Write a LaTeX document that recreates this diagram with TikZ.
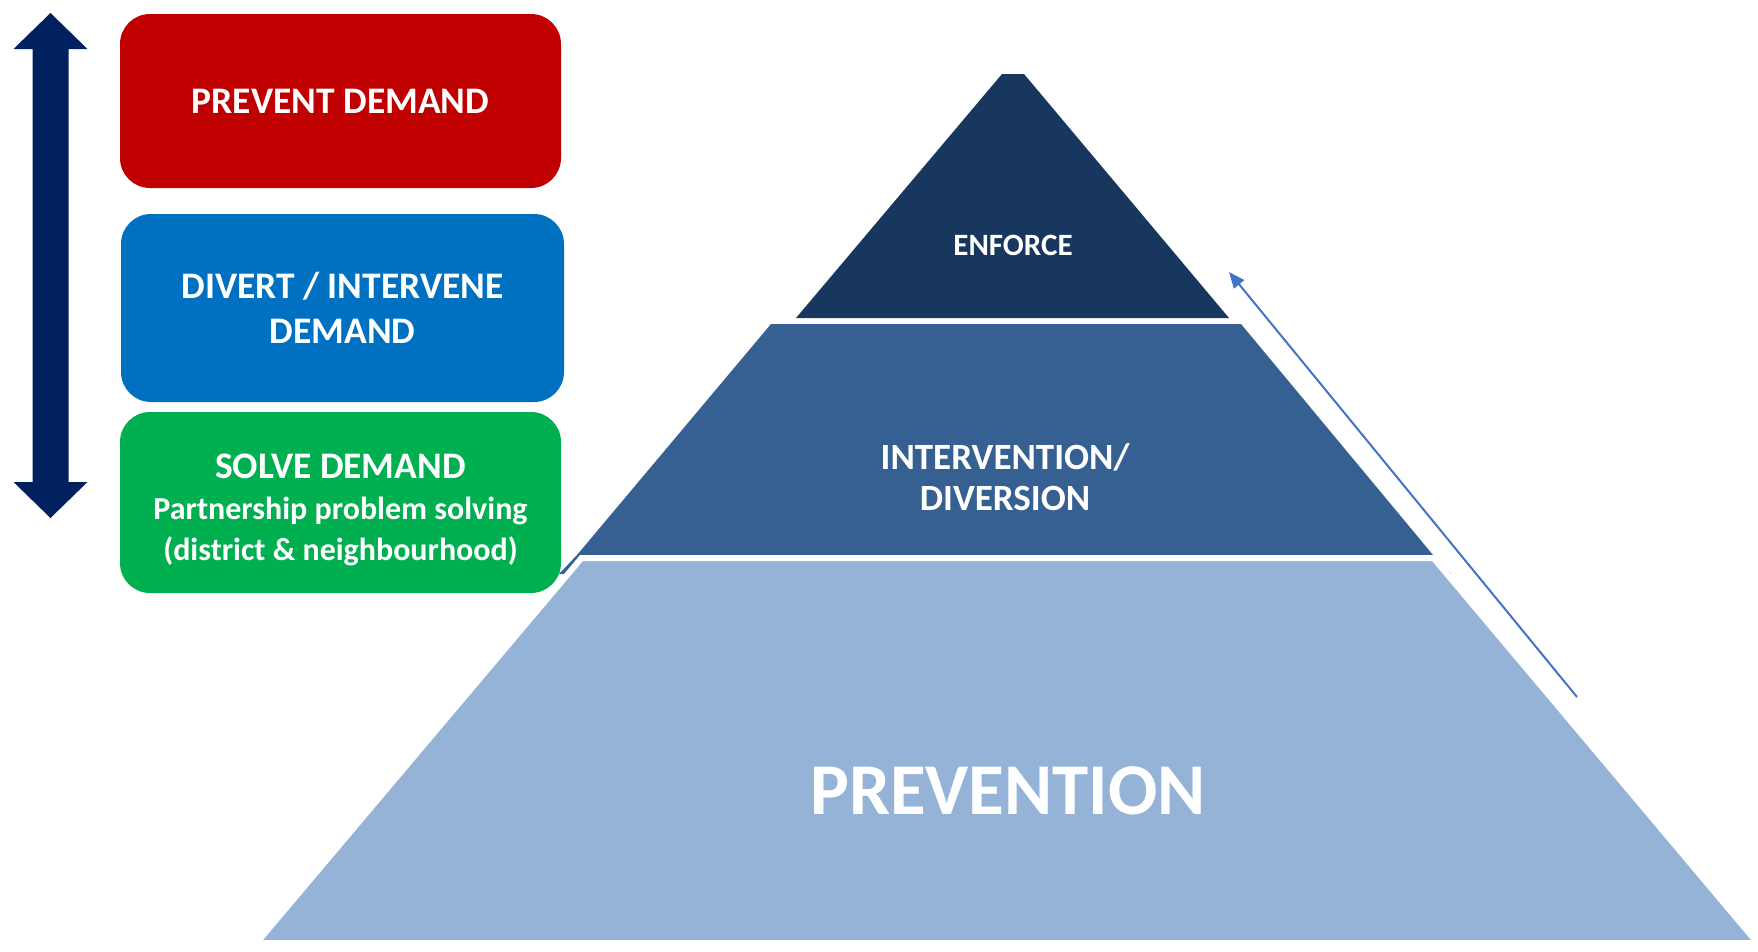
\documentclass[tikz,border=0pt]{standalone}
\usepackage{fontspec}
\setmainfont{Carlito}
\usetikzlibrary{arrows.meta}
\definecolor{preventred}{HTML}{C00000}
\definecolor{divertblue}{HTML}{0070C0}
\definecolor{solvegreen}{HTML}{00B050}
\definecolor{scalenavy}{HTML}{002060}
\definecolor{enforcefill}{HTML}{17375E}
\definecolor{interfill}{HTML}{376092}
\definecolor{preventfill}{HTML}{95B3D7}
\definecolor{linkblue}{HTML}{4472C4}
\tikzset{
	demandbox/.style={rounded corners=30pt, text=white, inner sep=0pt, align=center, minimum width=441pt, font=\bfseries\fontsize{37.5}{45}\selectfont},
	layertext/.style={text=white, align=center, inner sep=0pt, font=\bfseries\fontsize{37}{41}\selectfont},
}

\begin{document}
\begin{tikzpicture}[x=1pt, y=-1pt]
			\useasboundingbox (0, 0) rectangle (1758, 951);
			\fill[scalenavy] (50.5, 13) -- (87.5, 49) -- (68.5, 49) -- (68.5, 482) -- (87.5, 482) -- (50.5, 518) -- (13.5, 482) -- (32.5, 482) -- (32.5, 49) -- (13.5, 49) -- cycle;
			\node[demandbox, fill=preventred, minimum height=174pt] (prevent) at (340.5, 101) {PREVENT DEMAND};
			\node[demandbox, fill=divertblue, minimum width=443pt, minimum height=188pt] (divert) at (342.5, 308) {DIVERT / INTERVENE\\DEMAND};
			\node[demandbox, fill=solvegreen, minimum height=181pt, font=\bfseries\fontsize{37.5}{41}\selectfont] (solve) at (340.5, 502.5) {\\[-2pt]SOLVE DEMAND\\{\fontsize{32}{38}\selectfont Partnership problem solving}\\{\fontsize{32}{38}\selectfont (district \& neighbourhood)}};
			\fill[enforcefill] (1002, 74) -- (1024, 74) -- (1229, 318) -- (796, 318) -- cycle;
			\fill[interfill] (771, 324) -- (1241, 324) -- (1433, 555) -- (1451, 574) -- (559, 574) -- (577, 555) -- cycle;
			\filldraw[preventfill, draw=white, line width=6pt] (581.5, 558) -- (1433.5, 558) -- (1757.5, 943) -- (256.5, 943) -- cycle;
			\node[layertext, font=\bfseries\fontsize{31}{36}\selectfont] (enforce) at (1013, 245) {ENFORCE};
			\node[layertext] (intervention) at (1005, 477) {INTERVENTION/\\DIVERSION};
			\node[layertext, font=\bfseries\fontsize{73}{80}\selectfont] (prevention) at (1008, 791) {PREVENTION};
			\coordinate (risefoot) at (1577, 697);
			\coordinate (risetop) at (1229, 272);
			\draw[linkblue, line width=2pt, -{Triangle[length=16pt, width=13pt]}] (risefoot) -- (risetop);
		\end{tikzpicture}
\end{document}
